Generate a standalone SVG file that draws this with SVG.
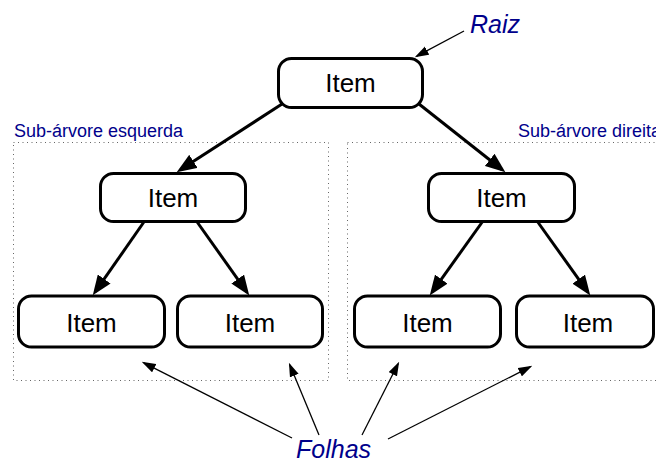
<svg xmlns="http://www.w3.org/2000/svg" width="656" height="461" viewBox="0 0 656 461">
  <defs>
    <marker id="headBold" markerUnits="userSpaceOnUse" markerWidth="20" markerHeight="16" viewBox="0 0 18 14" refX="14" refY="7" orient="auto">
      <path d="M0,0 L18,7 L0,14 Z" fill="#000"/>
    </marker>
    <marker id="headThin" markerUnits="userSpaceOnUse" markerWidth="14" markerHeight="10" viewBox="0 0 12 8" refX="10" refY="4" orient="auto">
      <path d="M0,0 L12,4 L0,8 Z" fill="#000"/>
    </marker>
  </defs>
  <style>
    .box { fill: #fff; stroke: #000; stroke-width: 3; }
    .item { font-family: "Liberation Sans", Arial, sans-serif; font-size: 26px; fill: #000; text-anchor: middle; }
    .label { font-family: "Liberation Sans", Arial, sans-serif; font-style: italic; font-size: 25px; fill: #00008b; }
    .group-title { font-family: "Liberation Sans", Arial, sans-serif; font-size: 18px; fill: #00008b; }
    .region { fill: none; stroke: #666; stroke-width: 1; stroke-dasharray: 1 3.5; }
    .edge { fill: none; stroke: #000; stroke-width: 3; marker-end: url(#headBold); }
    .pointer { fill: none; stroke: #000; stroke-width: 1.3; marker-end: url(#headThin); }
  </style>

  <rect width="656" height="461" fill="#fff"/>

  <!-- subtree regions -->
  <g id="subtree-left">
    <rect class="region" x="13.5" y="142.5" width="315" height="238"/>
    <text class="group-title" x="14" y="137">Sub-árvore esquerda</text>
  </g>
  <g id="subtree-right">
    <rect class="region" x="347.5" y="142.5" width="330" height="238"/>
    <text class="group-title" x="518" y="137">Sub-árvore direita</text>
  </g>

  <!-- connectors -->
  <g id="connectors">
    <line class="edge" x1="282" y1="104" x2="180.4" y2="169.8"/>
    <line class="edge" x1="419" y1="104" x2="501.9" y2="169.5"/>
    <line class="edge" x1="146" y1="219" x2="95.3" y2="291.7"/>
    <line class="edge" x1="195" y1="219" x2="246.7" y2="291.8"/>
    <line class="edge" x1="484.4" y1="219" x2="432.3" y2="291.8"/>
    <line class="edge" x1="535.6" y1="219" x2="587.7" y2="291.8"/>
    <line class="pointer" x1="464" y1="31" x2="416.8" y2="56.1"/>
    <line class="pointer" x1="292" y1="438" x2="143.8" y2="362.9"/>
    <line class="pointer" x1="319" y1="435" x2="289.8" y2="364.8"/>
    <line class="pointer" x1="362" y1="435" x2="398.1" y2="363.8"/>
    <line class="pointer" x1="388" y1="439" x2="530.2" y2="366.9"/>
  </g>

  <!-- tree nodes -->
  <g id="root">
    <rect class="box" x="278.5" y="58.5" width="144" height="49" rx="13"/>
    <text class="item" x="350.5" y="92">Item</text>
  </g>
  <g id="mid-left">
    <rect class="box" x="100.5" y="173.5" width="145" height="48" rx="13"/>
    <text class="item" x="173" y="207">Item</text>
  </g>
  <g id="mid-right">
    <rect class="box" x="428.5" y="173.5" width="146" height="48" rx="13"/>
    <text class="item" x="501.5" y="207">Item</text>
  </g>
  <g id="leaf-1">
    <rect class="box" x="18.5" y="296" width="146" height="51" rx="13"/>
    <text class="item" x="91.5" y="332">Item</text>
  </g>
  <g id="leaf-2">
    <rect class="box" x="177.5" y="296" width="145" height="51" rx="13"/>
    <text class="item" x="250" y="332">Item</text>
  </g>
  <g id="leaf-3">
    <rect class="box" x="354.5" y="296" width="146" height="51" rx="13"/>
    <text class="item" x="427.5" y="332">Item</text>
  </g>
  <g id="leaf-4">
    <rect class="box" x="516.5" y="296" width="137" height="51" rx="13"/>
    <text class="item" x="588" y="332">Item</text>
  </g>

  <!-- annotations -->
  <g id="label-raiz">
    <text class="label" x="470" y="33">Raiz</text>
  </g>
  <g id="label-folhas">
    <text class="label" x="296" y="458" font-size="26">Folhas</text>
  </g>
</svg>
